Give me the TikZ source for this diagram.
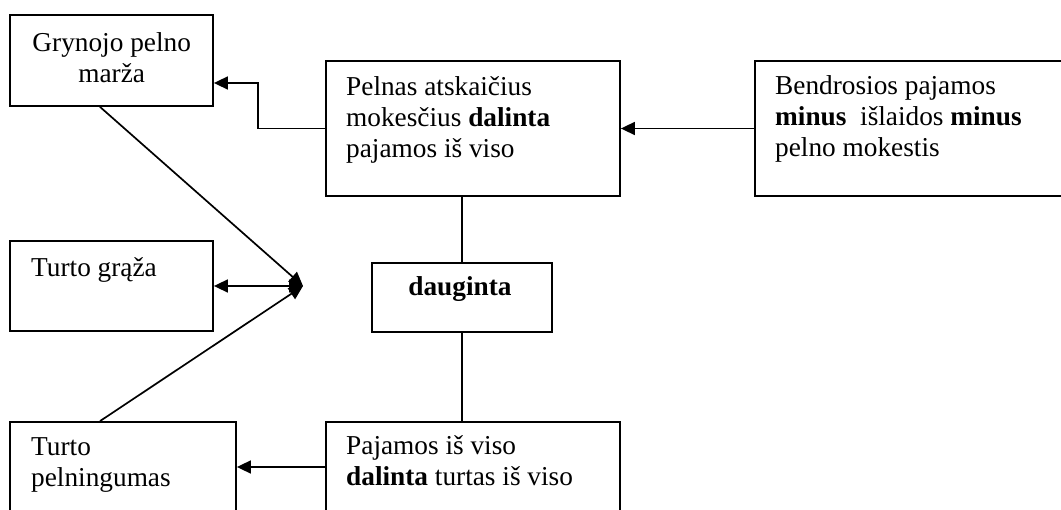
\documentclass[tikz,border=0pt]{standalone}
\usepackage{fontspec}
\setmainfont{Liberation Serif}
\usetikzlibrary{arrows.meta}
\begin{document}
\begin{tikzpicture}[x=1pt,y=-1pt,
  box/.style={draw,line width=1.8pt,rectangle,inner sep=0pt},
  txt/.style={anchor=base west,inner sep=0pt,font=\fontsize{27.3}{31}\selectfont},
  link/.style={line width=1.7pt},
  arr/.style={line width=1.7pt,-{Triangle[length=14pt,width=13pt]}},
  darr/.style={line width=1.7pt,{Triangle[length=14pt,width=13pt]}-{Triangle[length=14pt,width=13pt]}}]
\clip (0,0) rectangle (1061,510);

% boxes
\node[box,minimum width=203pt,minimum height=91pt]  (gryn)   at (111.5,60.5) {};
\node[box,minimum width=294pt,minimum height=135pt] (pelnas) at (473,128.5) {};
\node[box,minimum width=320pt,minimum height=135pt] (bend)   at (915,128.5) {};
\node[box,minimum width=203pt,minimum height=90pt]  (graza)  at (111.5,286) {};
\node[box,minimum width=180pt,minimum height=69pt]  (daug)   at (462,297.5) {};
\node[box,minimum width=226pt,minimum height=90pt]  (turtp)  at (123,467) {};
\node[box,minimum width=294pt,minimum height=90pt]  (paj)    at (473,467) {};

% texts
\node[txt] (tgryn) at (10,52) {\parbox[t]{203pt}{\centering Grynojo pelno\\ marža}};
\node[txt] (tpelnas) at (346,96) {\parbox[t]{270pt}{Pelnas atskaičius\\ mokesčius \textbf{dalinta}\\ pajamos iš viso}};
\node[txt] (tbend) at (775,95) {\parbox[t]{280pt}{Bendrosios pajamos\\ \textbf{minus}\ \ išlaidos \textbf{minus}\\ pelno mokestis}};
\node[txt] (tgraza) at (31,277) {Turto grąža};
\node[txt,anchor=base] (tdaug) at (460,296) {\textbf{dauginta}};
\node[txt] (tturtp) at (31,456) {\parbox[t]{200pt}{Turto\\ pelningumas}};
\node[txt] (tpaj) at (346,455) {\parbox[t]{270pt}{Pajamos iš viso\\ \textbf{dalinta} turtas iš viso}};

% connectors
\coordinate (hub) at (303,286);
\draw[arr] (pelnas.west) -- ++(-67,0) |- ([yshift=-22.5pt]gryn.east);
\draw[arr] (bend.west) -- (pelnas.east);
\draw[link] (daug.north) -- (daug.north |- pelnas.south);
\draw[link] (daug.south) -- (daug.south |- paj.north);
\draw[arr] (paj.west) -- (turtp.east);
\draw[arr] ([xshift=-11.5pt]gryn.south) -- (hub);
\draw[arr] ([xshift=-23pt]turtp.north) -- (hub);
\draw[darr] (graza.east) -- (hub);
\end{tikzpicture}
\end{document}
